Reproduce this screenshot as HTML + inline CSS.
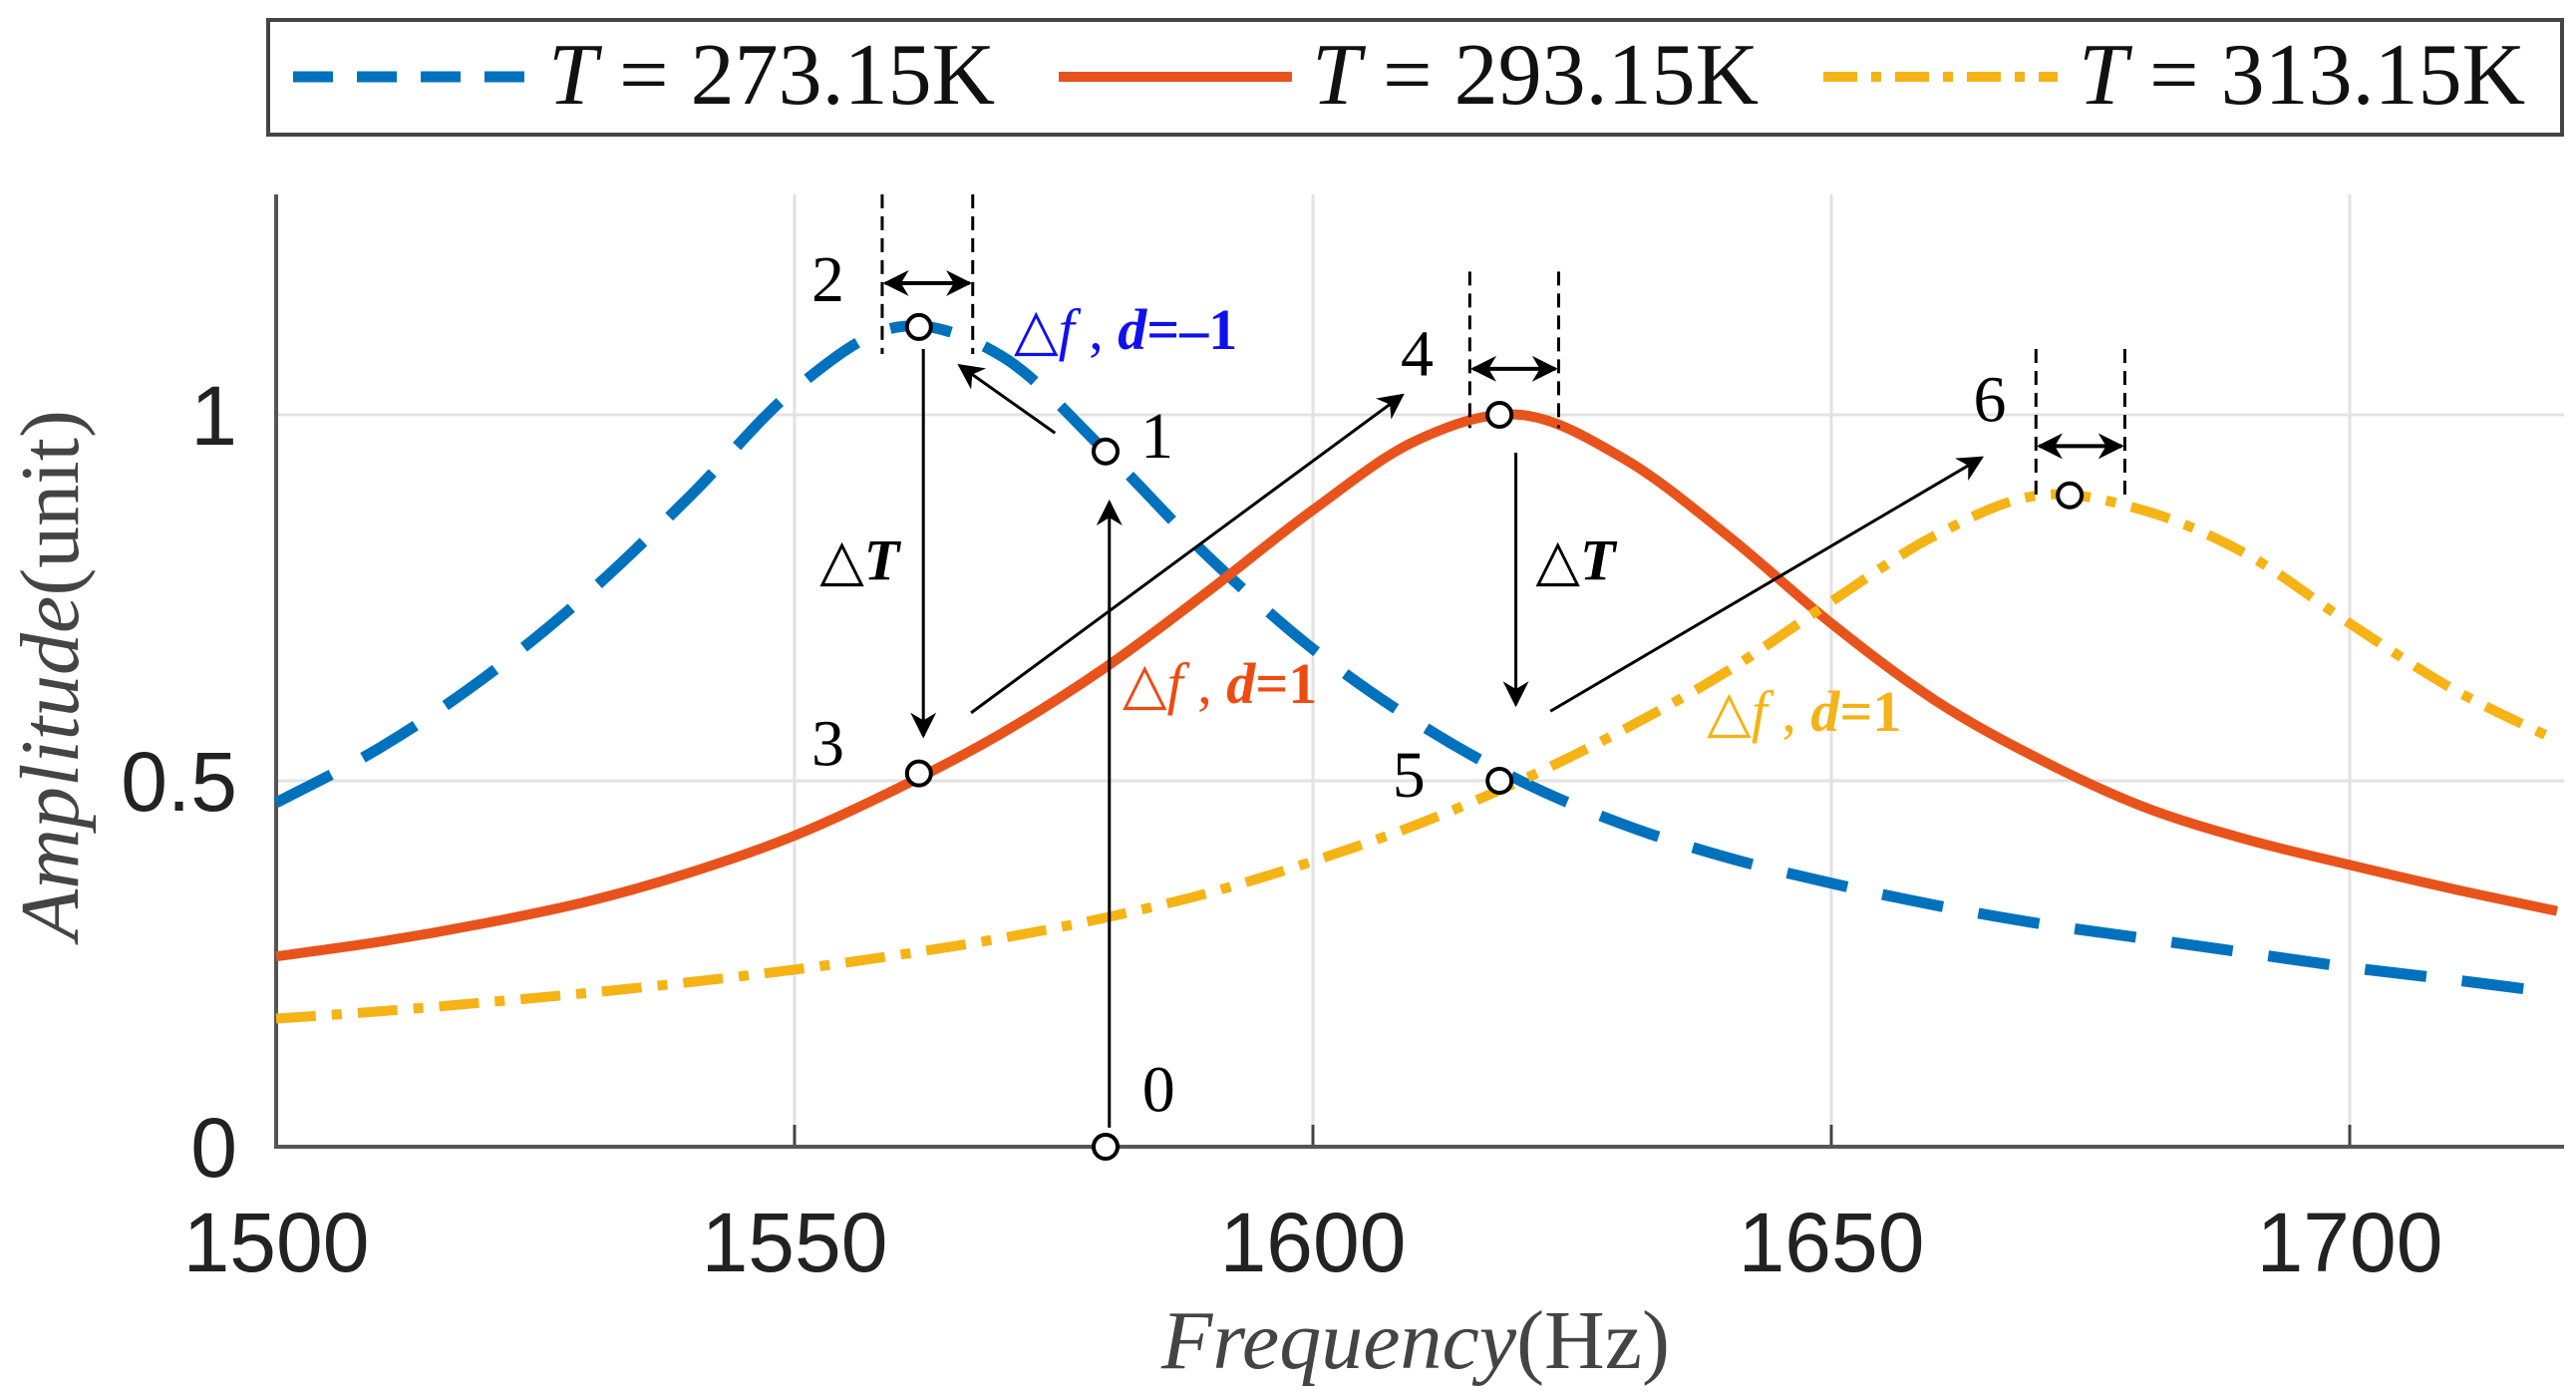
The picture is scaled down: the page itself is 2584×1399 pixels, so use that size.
<!DOCTYPE html>
<html><head><meta charset="utf-8"><style>
html,body{margin:0;padding:0;background:#fff;}
svg{display:block;}
</style></head><body>
<svg id="chart" width="2584" height="1399" viewBox="0 0 2584 1399" xmlns="http://www.w3.org/2000/svg"></svg>
<script>
const freqs = [1500,1510,1520,1530,1540,1550,1560,1570,1580,1590,1600,1610,1620,1630,1640,1650,1660,1670,1680,1690,1700,1710,1720];
const blueVals = [0.47,0.545,0.64,0.755,0.89,1.035,1.12,1.08,0.95,0.805,0.68,0.58,0.50,0.44,0.395,0.36,0.33,0.305,0.285,0.265,0.245,0.228,0.21];
const redVals = [0.26,0.28,0.305,0.335,0.375,0.425,0.49,0.565,0.655,0.76,0.87,0.965,1.0,0.94,0.835,0.715,0.61,0.53,0.465,0.42,0.385,0.352,0.322];
const yellowVals = [0.175,0.185,0.197,0.21,0.225,0.242,0.262,0.285,0.313,0.347,0.39,0.44,0.50,0.57,0.65,0.745,0.835,0.89,0.87,0.81,0.715,0.625,0.555];
const xTicks = [1500,1550,1600,1650,1700];
const yTicks = [0,0.5,1];
const yTickLabels = ["0","0.5","1"];
const markerF = [1580,1580,1562,1562,1618,1618,1673];
const markerA = [0,0.95,1.12,0.51,1.0,0.5,0.89];
const markerLabels = ["0","1","2","3","4","5","6"];

const X0=277, X1=2572, Y0=1150, YT=195;
const fx = f => X0 + (f-1500)*10.4;
const fy = a => Y0 - a*734;
const S = 1.651;
const NS="http://www.w3.org/2000/svg";
const svg=document.getElementById('chart');
function mk(tag, attrs, parent){const e=document.createElementNS(NS,tag);for(const k in attrs)e.setAttribute(k,attrs[k]);(parent||svg).appendChild(e);return e;}

const defs=mk('defs',{});
const mkA=mk('marker',{id:'ah',viewBox:'0 0 10 10',refX:'9',refY:'5',markerWidth:'26',markerHeight:'26',orient:'auto-start-reverse',markerUnits:'userSpaceOnUse'},defs);
mk('path',{d:'M0,0 L10,5 L0,10 L3,5 z',fill:'#000'},mkA);

xTicks.forEach(t=>{if(t>1500){const g=mk('line',{x1:fx(t),x2:fx(t),y1:YT,y2:Y0,stroke:'#e2e2e2','stroke-width':3});

const tk=mk('line',{x1:fx(t),x2:fx(t),y1:Y0,y2:Y0-22,stroke:'#444','stroke-width':3});
}});
yTicks.forEach(t=>{if(t>0){const g=mk('line',{x1:X0,x2:X1,y1:fy(t),y2:fy(t),stroke:'#e2e2e2','stroke-width':3});
}});
const ax=mk('path',{d:`M${X0},${YT} L${X0},${Y0} L${X1},${Y0}`,fill:'none',stroke:'#555','stroke-width':4});


xTicks.forEach(t=>{const e=mk('text',{x:fx(t),y:1275,'text-anchor':'middle','font-family':'Liberation Sans, sans-serif','font-size':84,fill:'#222'});e.textContent=t;
});
yTicks.forEach((t,i)=>{const e=mk('text',{x:238,y:fy(t)+30,'text-anchor':'end','font-family':'Liberation Sans, sans-serif','font-size':84,fill:'#222'});e.textContent=yTickLabels[i];
});

const xt=mk('text',{x:1420,y:1372,'text-anchor':'middle','font-family':'Liberation Serif, serif','font-size':84,fill:'#444'});
xt.innerHTML='<tspan font-style="italic">Frequency</tspan>(Hz)';

const yt=mk('text',{x:0,y:0,'text-anchor':'middle','font-family':'Liberation Serif, serif','font-size':84,fill:'#444',transform:'translate(78,677) rotate(-90)'});
yt.innerHTML='<tspan font-style="italic">Amplitude</tspan>(unit)';


function curvePath(vals){
  const p=freqs.map((f,i)=>[fx(f),fy(vals[i])]);
  let d=`M${p[0][0]},${p[0][1]}`;
  for(let i=0;i<p.length-1;i++){
    const a=p[Math.max(0,i-1)],b=p[i],c=p[i+1],e=p[Math.min(p.length-1,i+2)];
    d+=` C${b[0]+(c[0]-a[0])/6},${b[1]+(c[1]-a[1])/6} ${c[0]-(e[0]-b[0])/6},${c[1]-(e[1]-b[1])/6} ${c[0]},${c[1]}`;
  }
  return d;
}
const cb=mk('path',{d:curvePath(blueVals),fill:'none',stroke:'#0072BD','stroke-width':11,'stroke-dasharray':'62 36'});

const cr=mk('path',{d:curvePath(redVals),fill:'none',stroke:'#E8531C','stroke-width':10});

const cy=mk('path',{d:curvePath(yellowVals),fill:'none',stroke:'#F5B316','stroke-width':10,'stroke-dasharray':'40 16 10 16'});


function L(x1,y1,x2,y2,opts){return mk('line',Object.assign({x1:x1*S,y1:y1*S,x2:x2*S,y2:y2*S,stroke:'#000','stroke-width':3},opts||{}));}
[[536,118,215],[591,118,215],[893,165,260],[947,165,260],[1237,212,305],[1291,212,305]].forEach(v=>{
  const e=L(v[0],v[1],v[0],v[2],{'stroke-dasharray':'14 8','stroke-width':3});
  });
[[538,589,172],[895,945,224],[1239,1289,271]].forEach(v=>{
  const e=L(v[0],v[2],v[1],v[2],{'marker-start':'url(#ah)','marker-end':'url(#ah)','stroke-width':4});
  });
[[641,263,583,222],[561,212,561,447],[674,685,674,305],[590,433,852,240],[921,275,921,428],[942,432,1204,278]].forEach(v=>{
  const e=L(v[0],v[1],v[2],v[3],{'marker-end':'url(#ah)'});
  });

markerF.forEach((f,i)=>{
  const c=mk('circle',{cx:fx(f),cy:fy(markerA[i]),r:12,fill:'#fff',stroke:'#000','stroke-width':4});
  
});
const labelPos=[[704,675],[703,278],[503,183],[503,465],[861,228],[856,484],[1209,256]];
labelPos.forEach((p,i)=>{const e=mk('text',{x:p[0]*S,y:p[1]*S,'text-anchor':'middle','font-family':'Liberation Serif, serif','font-size':66,fill:'#000'});e.textContent=markerLabels[i];
  });

function T(x,y,html,name,color,size){const e=mk('text',{x:x*S,y:y*S,'font-family':'Liberation Serif, serif','font-size':size||60,fill:color||'#000'});e.innerHTML=html;
  return e;}
T(498,352,'△<tspan font-style="italic" font-weight="bold">T</tspan>','delta-t-label-1','#000',58);
T(933,352,'△<tspan font-style="italic" font-weight="bold">T</tspan>','delta-t-label-2','#000',58);
T(616,212,'△<tspan font-style="italic">f</tspan> , <tspan font-style="italic" font-weight="bold">d</tspan><tspan font-weight="bold">=–1</tspan>','delta-f-label-blue','#1010ee',58);
T(682,427,'△<tspan font-style="italic">f</tspan> , <tspan font-style="italic" font-weight="bold">d</tspan><tspan font-weight="bold">=1</tspan>','delta-f-label-red','#EE4B12',58);
T(1037,444,'△<tspan font-style="italic">f</tspan> , <tspan font-style="italic" font-weight="bold">d</tspan><tspan font-weight="bold">=1</tspan>','delta-f-label-yellow','#F5B316',58);

const lg=mk('g',{});

const lb=mk('rect',{x:269,y:20,width:2301,height:115,fill:'#fff',stroke:'#444','stroke-width':4},lg);

const legend=[[294,528,550,'273.15','#0072BD','40 24',11],[1062,1296,1316,'293.15','#E8531C','',10],[1829,2064,2085,'313.15','#F5B316','34 14 10 14',10]];
legend.forEach(l=>{
  const ln=mk('line',{x1:l[0],x2:l[1],y1:77,y2:77,stroke:l[4],'stroke-width':l[6]},lg);
  if(l[5])ln.setAttribute('stroke-dasharray',l[5]);
  
  const t=mk('text',{x:l[2],y:104,'font-family':'Liberation Serif, serif','font-size':88,fill:'#111'},lg);
  t.innerHTML='<tspan font-style="italic">T</tspan> = '+l[3]+'K';
  
});
</script>
</body></html>
